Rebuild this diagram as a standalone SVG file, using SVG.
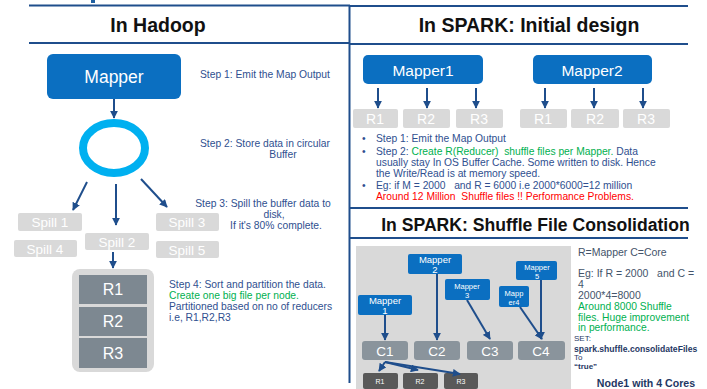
<svg xmlns="http://www.w3.org/2000/svg" width="707" height="389" viewBox="0 0 707 389">
<defs>
<marker id="ah" viewBox="0 0 10 10" refX="9" refY="5" markerWidth="4" markerHeight="4" orient="auto"><path d="M0,0 L10,5 L0,10 z" fill="#1f4e8c"/></marker>
<style>
.t{font-family:"Liberation Sans",Arial,sans-serif}
.title{font-family:"Liberation Sans",Arial,sans-serif;font-weight:bold;font-size:19.5px;fill:#111}
.rule{stroke:#1f4e8c;stroke-width:2;fill:none}
.blue{fill:#0b6fc1}
.lg{fill:#d9d9d9}
.dg{fill:#7d8891}
.wt{font-family:"Liberation Sans",Arial,sans-serif;fill:#fff;text-anchor:middle}
.st{font-family:"Liberation Sans",Arial,sans-serif;font-size:10.3px;fill:#2f4f8f}
.gr{fill:#00b050}
.rd{fill:#ff0000}
.conn line{stroke:#1f4e8c;stroke-width:2;marker-end:url(#ah)}
</style>
</defs>
<rect width="707" height="389" fill="#fff"/>
<rect x="91" y="0" width="4" height="3" fill="#1f5fa0"/>
<g id="frame">
<line class="rule" x1="29" y1="5.5" x2="350" y2="5.5"/>
<line class="rule" x1="29" y1="43" x2="350" y2="43"/>
<line class="rule" x1="350" y1="6" x2="688" y2="6"/>
<line class="rule" x1="350" y1="44" x2="688" y2="44"/>
<line class="rule" x1="350" y1="208" x2="688" y2="208"/>
<line class="rule" x1="350" y1="238" x2="688" y2="238"/>
<line class="rule" x1="349.5" y1="5" x2="349.5" y2="383"/>
</g>
<text class="title" x="158" y="32" text-anchor="middle">In Hadoop</text>
<text class="title" x="529" y="32" text-anchor="middle">In SPARK: Initial design</text>
<text class="title" x="535.5" y="231" text-anchor="middle" style="font-size:17.6px">In SPARK: Shuffle File Consolidation</text>

<!-- Hadoop -->
<g id="mapper"><rect class="blue" x="47" y="54" width="134" height="45" rx="6"/><text class="wt" x="114" y="83" font-size="17.5">Mapper</text></g>
<g id="buffer"><ellipse cx="114" cy="148" rx="31" ry="25" fill="none" stroke="#00b0f0" stroke-width="8"/></g>
<g id="spill1"><rect class="lg" x="18" y="213" width="64" height="18" rx="2"/><text class="wt" x="50" y="227" font-size="13.5">Spill 1</text></g>
<g id="spill2"><rect class="lg" x="85" y="233" width="64" height="17" rx="2"/><text class="wt" x="117" y="246.5" font-size="13.5">Spill 2</text></g>
<g id="spill3"><rect class="lg" x="156" y="213" width="63" height="18" rx="2"/><text class="wt" x="187" y="227" font-size="13.5">Spill 3</text></g>
<g id="spill4"><rect class="lg" x="14" y="240" width="63" height="17" rx="2"/><text class="wt" x="45" y="253.5" font-size="13.5">Spill 4</text></g>
<g id="spill5"><rect class="lg" x="156" y="241" width="63" height="17" rx="2"/><text class="wt" x="187" y="254.5" font-size="13.5">Spill 5</text></g>
<g id="partitions">
<rect class="lg" x="72" y="269" width="82" height="103" rx="8"/>
<rect class="dg" x="79" y="275" width="68" height="29"/><text class="wt" x="113" y="295" font-size="16">R1</text>
<rect class="dg" x="79" y="307" width="68" height="29"/><text class="wt" x="113" y="327" font-size="16">R2</text>
<rect class="dg" x="79" y="338" width="68" height="30"/><text class="wt" x="113" y="359" font-size="16">R3</text>
</g>
<g id="hadoop-steps">
<text class="st" x="200" y="78">Step 1: Emit the Map Output</text>
<text class="st" x="200" y="147">Step 2: Store data in circular</text>
<text class="st" x="283" y="158" text-anchor="middle">Buffer</text>
<text class="st" x="263" y="207" text-anchor="middle">Step 3: Spill the buffer data to</text>
<text class="st" x="274" y="218" text-anchor="middle">disk,</text>
<text class="st" x="276" y="229" text-anchor="middle">If it's 80% complete.</text>
<text class="st" x="169" y="288">Step 4: Sort and partition the data.</text>
<text class="st gr" x="169" y="299">Create one big file per node.</text>
<text class="st" x="169" y="310">Partitioned based on no of reducers</text>
<text class="st" x="169" y="321">i.e, R1,R2,R3</text>
</g>

<!-- Spark initial -->
<g id="mapper1"><rect class="blue" x="363" y="55" width="120" height="29" rx="5"/><text class="wt" x="423" y="76" font-size="15.5">Mapper1</text></g>
<g id="mapper2"><rect class="blue" x="533" y="55" width="119" height="29" rx="5"/><text class="wt" x="592" y="76" font-size="15.5">Mapper2</text></g>
<g id="m1r"><rect class="lg" x="353" y="109" width="45" height="19" rx="2"/><text class="wt" x="375" y="124" font-size="14">R1</text>
<rect class="lg" x="403" y="109" width="47" height="19" rx="2"/><text class="wt" x="426" y="124" font-size="14">R2</text>
<rect class="lg" x="456" y="109" width="47" height="19" rx="2"/><text class="wt" x="479" y="124" font-size="14">R3</text></g>
<g id="m2r"><rect class="lg" x="520" y="109" width="47" height="19" rx="2"/><text class="wt" x="543" y="124" font-size="14">R1</text>
<rect class="lg" x="571" y="109" width="48" height="19" rx="2"/><text class="wt" x="595" y="124" font-size="14">R2</text>
<rect class="lg" x="623" y="109" width="47" height="19" rx="2"/><text class="wt" x="646" y="124" font-size="14">R3</text></g>
<g id="spark-notes">
<text class="st" x="362" y="142">•</text><text class="st" x="376" y="142">Step 1: Emit the Map Output</text>
<text class="st" x="362" y="155">•</text><text class="st" x="376" y="155" xml:space="preserve">Step 2: <tspan class="gr">Create R(Reducer)  shuffle files per Mapper.</tspan> Data</text>
<text class="st" x="376" y="166">usually stay In OS Buffer Cache. Some written to disk. Hence</text>
<text class="st" x="376" y="177">the Write/Read is at memory speed.</text>
<text class="st" x="362" y="188.5">•</text><text class="st" x="376" y="188.5" xml:space="preserve">Eg: if M = 2000   and R = 6000 i.e 2000*6000=12 million</text>
<text class="st rd" x="376" y="199.5" xml:space="preserve">Around 12 Million  Shuffle files !! Performance Problems.</text>
</g>

<!-- Consolidation -->
<rect class="lg" x="356" y="246" width="215" height="143"/>
<g id="cm1"><rect class="blue" x="358" y="295" width="54" height="20" rx="2"/><text class="wt" x="385" y="304" font-size="9.5">Mapper</text><text class="wt" x="385" y="314" font-size="9.5">1</text></g>
<g id="cm2"><rect class="blue" x="408" y="254" width="54" height="20" rx="2"/><text class="wt" x="435" y="263" font-size="9.5">Mapper</text><text class="wt" x="435" y="273" font-size="9.5">2</text></g>
<g id="cm3"><rect class="blue" x="445" y="279" width="45" height="21" rx="2"/><text class="wt" x="467" y="289" font-size="7.5">Mapper</text><text class="wt" x="467" y="297.5" font-size="7.5">3</text></g>
<g id="cm4"><rect class="blue" x="499" y="286" width="30" height="21" rx="2"/><text class="wt" x="514" y="296" font-size="7.5">Mapp</text><text class="wt" x="514" y="304.5" font-size="7.5">er4</text></g>
<g id="cm5"><rect class="blue" x="516" y="261" width="41" height="19" rx="2"/><text class="wt" x="537" y="270" font-size="7.5">Mapper</text><text class="wt" x="537" y="278.5" font-size="7.5">5</text></g>
<g id="c1"><rect fill="#8a949c" x="362" y="341" width="46" height="19" rx="3"/><text class="wt" x="385" y="355.5" font-size="13.5">C1</text></g>
<g id="c2"><rect fill="#8a949c" x="414" y="341" width="46" height="19" rx="3"/><text class="wt" x="437" y="355.5" font-size="13.5">C2</text></g>
<g id="c3"><rect fill="#8a949c" x="467" y="341" width="46" height="19" rx="3"/><text class="wt" x="490" y="355.5" font-size="13.5">C3</text></g>
<g id="c4"><rect fill="#8a949c" x="518" y="341" width="47" height="19" rx="3"/><text class="wt" x="541" y="355.5" font-size="13.5">C4</text></g>
<g id="cr1"><rect fill="#595959" x="363" y="373" width="35" height="16" rx="2"/><text class="wt" x="380" y="384" font-size="7">R1</text></g>
<g id="cr2"><rect fill="#595959" x="403" y="373" width="35" height="16" rx="2"/><text class="wt" x="420" y="384" font-size="7">R2</text></g>
<g id="cr3"><rect fill="#595959" x="444" y="373" width="34" height="16" rx="2"/><text class="wt" x="461" y="384" font-size="7">R3</text></g>
<g id="consol-notes">
<text class="t" x="578" y="256" font-size="10.5" fill="#44546a">R=Mapper C=Core</text>
<text class="t" x="578" y="277" font-size="10.5" fill="#44546a" xml:space="preserve">Eg: If R = 2000   and C =</text>
<text class="t" x="578" y="288" font-size="10.5" fill="#44546a">4</text>
<text class="t" x="578" y="299" font-size="10.5" fill="#44546a">2000*4=8000</text>
<text class="t gr" x="578" y="309.5" font-size="10.3">Around 8000 Shuffle</text>
<text class="t gr" x="578" y="320.5" font-size="10.3">files. Huge improvement</text>
<text class="t gr" x="578" y="331" font-size="10.3">in performance.</text>
<text class="t" x="574" y="341" font-size="8" fill="#1f3864">SET:</text>
<text class="t" x="574" y="352" font-size="8.6" font-weight="bold" fill="#1f3864">spark.shuffle.consolidateFiles</text>
<text class="t" x="574" y="360" font-size="8" fill="#1f3864">To</text>
<text class="t" x="574" y="369" font-size="8" font-weight="bold" fill="#1f3864">“true”</text>
<text class="t" x="646" y="387" font-size="10.6" font-weight="bold" fill="#1f3864" text-anchor="middle">Node1 with 4 Cores</text>
</g>

<g id="connectors" class="conn">
<line x1="114" y1="99" x2="114" y2="118"/>
<line x1="87" y1="182" x2="73" y2="210"/>
<line x1="116" y1="184" x2="116" y2="225"/>
<line x1="141" y1="179" x2="167" y2="207"/>
<line x1="113" y1="252" x2="113" y2="268"/>
<line x1="378" y1="88" x2="378" y2="108"/>
<line x1="427" y1="88" x2="427" y2="108"/>
<line x1="476" y1="88" x2="476" y2="108"/>
<line x1="545" y1="88" x2="545" y2="108"/>
<line x1="594" y1="88" x2="594" y2="108"/>
<line x1="643" y1="88" x2="643" y2="108"/>
<line x1="385" y1="315" x2="385" y2="340"/>
<line x1="437" y1="274" x2="437" y2="340"/>
<line x1="467" y1="300" x2="490" y2="339"/>
<line x1="520" y1="307" x2="542" y2="339"/>
<line x1="541" y1="280" x2="541" y2="339"/>
<line x1="385" y1="362" x2="379" y2="371"/>
<line x1="385" y1="362" x2="418" y2="370"/>
<line x1="385" y1="362" x2="460" y2="374"/>
</g>
</svg>
